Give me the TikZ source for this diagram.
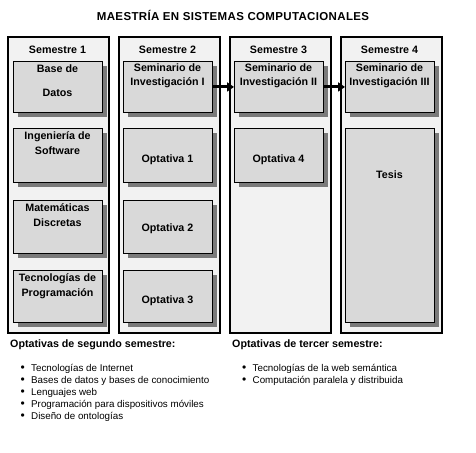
\documentclass[tikz,border=0pt]{standalone}
\usepackage{fontspec}
\setmainfont{Liberation Sans}
\usetikzlibrary{shadows,arrows.meta}
\definecolor{colbg}{HTML}{F2F2F2}
\definecolor{boxbg}{HTML}{D9D9D9}
\definecolor{shadowc}{HTML}{7A7A7A}
\newcommand{\blt}{\makebox[10.5pt][l]{\fontsize{12}{12}\selectfont\raisebox{-0.3pt}{•}}}
\begin{document}
\begin{tikzpicture}[x=1pt,y=-1pt,
  col/.style={draw, line width=2pt, fill=colbg, minimum width=101pt, minimum height=296pt, anchor=north west, inner sep=0pt},
  box/.style={draw, line width=0.9pt, fill=boxbg, anchor=north west, minimum width=89pt, inner sep=0pt,
    drop shadow={shadow xshift=5pt, shadow yshift=-5pt, fill=shadowc, opacity=1}},
  hdr/.style={font=\bfseries\fontsize{10.7}{13}\selectfont, inner sep=0pt},
  txt/.style={font=\bfseries\fontsize{10.7}{14.5}\selectfont, align=center, inner sep=0pt},
  arr/.style={line width=3pt, -{Triangle[length=7pt,width=9pt]}},
  lst/.style={font=\fontsize{9.8}{12}\selectfont, align=left, anchor=north west, inner sep=0pt},
  sub/.style={font=\bfseries\fontsize{10.7}{13}\selectfont, anchor=west, inner sep=0pt}
]
\useasboundingbox (0,0) rectangle (476,452);
\node[font=\bfseries\fontsize{11.5}{13}\selectfont\addfontfeature{LetterSpace=3}] (title) at (233,15) {MAESTRÍA EN SISTEMAS COMPUTACIONALES};
% columns
\node[col] (c1) at (7,36) {};
\node[col] (c2) at (118,36) {};
\node[col] (c3) at (229,36) {};
\node[col] (c4) at (340,36) {};
\node[hdr] (h1) at (57.5,50) {Semestre 1};
\node[hdr] (h2) at (167.5,50) {Semestre 2};
\node[hdr] (h3) at (278.5,50) {Semestre 3};
\node[hdr] (h4) at (389.5,50) {Semestre 4};
% column 1
\node[box, minimum height=51pt] (b11) at (13,61) {};
\node[box, minimum height=54pt] (b12) at (13,128) {};
\node[box, minimum height=53pt] (b13) at (13,200) {};
\node[box, minimum height=52pt] (b14) at (13,270) {};
\node[txt] (t11) at (57.5,81) {Base de\\[9.5pt]Datos};
\node[txt] (t12) at (57.5,143) {Ingeniería de\\Software};
\node[txt] (t13) at (57.5,215) {Matemáticas\\Discretas};
\node[txt] (t14) at (57.5,286) {Tecnologías de\\Programación};
% column 2
\node[box, minimum height=51pt] (b21) at (123,61) {};
\node[box, minimum height=54pt] (b22) at (123,128) {};
\node[box, minimum height=53pt] (b23) at (123,200) {};
\node[box, minimum height=52pt] (b24) at (123,270) {};
\node[txt] (t21) at (167.5,76) {Seminario de\\Investigación I};
\node[txt] (t22) at (167.5,160) {Optativa 1};
\node[txt] (t23) at (167.5,229) {Optativa 2};
\node[txt] (t24) at (167.5,301) {Optativa 3};
% column 3
\node[box, minimum height=51pt] (b31) at (234,61) {};
\node[box, minimum height=54pt] (b32) at (234,128) {};
\node[txt] (t31) at (278.5,76) {Seminario de\\Investigación II};
\node[txt] (t32) at (278.5,160) {Optativa 4};
% column 4
\node[box, minimum height=51pt] (b41) at (345,61) {};
\node[box, minimum height=194pt] (b42) at (345,128) {};
\node[txt] (t41) at (389.5,76) {Seminario de\\Investigación III};
\node[txt] (t42) at (389.5,175) {Tesis};
% arrows
\draw[arr] (b21.east) -- (b31.west);
\draw[arr] (b31.east) -- (b41.west);
% lists
\node[sub] (s1) at (10,345) {Optativas de segundo semestre:};
\node[sub] (s2) at (232,345) {Optativas de tercer semestre:};
\node[lst] (l1) at (20.5,364) {\blt Tecnologías de Internet\\
\blt Bases de datos y bases de conocimiento\\
\blt Lenguajes web\\
\blt Programación para dispositivos móviles\\
\blt Diseño de ontologías};
\node[lst] (l2) at (242,364) {\blt Tecnologías de la web semántica\\
\blt Computación paralela y distribuida};
\end{tikzpicture}
\end{document}
